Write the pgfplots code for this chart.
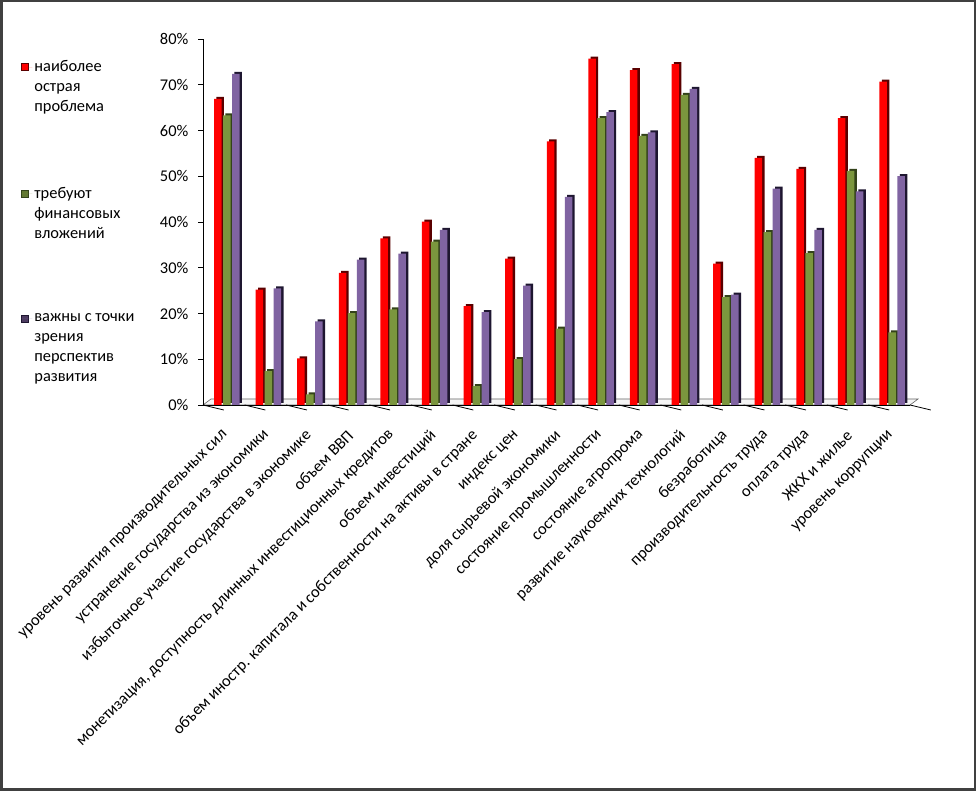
\documentclass[border=0pt]{standalone}
\usepackage{pgfplots}
\pgfplotsset{compat=1.18}
\usepackage{pgfplotstable}
\usepackage{fontspec}
\setmainfont{Carlito}
\definecolor{cred}{HTML}{FF0000}
\definecolor{cgreen}{HTML}{7B963E}
\definecolor{cpurple}{HTML}{8064A2}
\definecolor{sred}{HTML}{5A0000}
\definecolor{sgreen}{HTML}{33421A}
\definecolor{spurple}{HTML}{1E1630}

\pgfplotstableread{
x red green purple
0 66.9 63.3 72.4
1 25.2 7.4 25.5
2 10.2 2.3 18.3
3 28.9 20.1 31.8
4 36.4 20.9 33.1
5 40.1 35.7 38.3
6 21.6 4.1 20.3
7 32.0 10.0 26.1
8 57.6 16.7 45.5
9 75.7 62.7 64.0
10 73.2 58.8 59.6
11 74.5 67.8 69.1
12 30.9 23.6 24.1
13 54.0 37.8 47.3
14 51.6 33.2 38.3
15 62.7 51.2 46.7
16 70.7 15.9 50.0
}\data

\begin{document}
{\fontsize{16.4}{20}\selectfont
\begin{tikzpicture}[x=1pt,y=1pt]
\useasboundingbox (0,0) rectangle (976,791);
\fill[white] (0,0) rectangle (976,791);
\draw[line width=2.5pt, color=black!75] (1.25,1.25) rectangle (974.75,789.75);
% floor
\filldraw[fill=black!4, draw=black!60, line width=0.6pt] (203,386) -- (910,386) -- (918,392) -- (211,392) -- cycle;
\begin{axis}[
  at={(203pt,386pt)}, anchor=south west,
  width=707pt, height=366pt, scale only axis,
  xmin=-0.5, xmax=16.5, ymin=0, ymax=80,
  axis x line*=bottom, axis y line*=left,
  axis line style={black, line width=0.8pt},
  /pgf/number format/assume math mode=true,
  ytick={0,10,...,80},
  yticklabels={0\%,10\%,20\%,30\%,40\%,50\%,60\%,70\%,80\%},
  yticklabel style={xshift=-4pt},
  major tick length=5pt, tick align=outside,
  tick style={black, line width=0.8pt},
  xtick={0,...,16},
  xtick style={draw=none},
  xticklabels={
    уровень развития производительных сил,
    устранение государства из экономики,
    избыточное участие государства в экономике,
    объем ВВП,
    {монетизация, доступность длинных инвестиционных кредитов},
    объем инвестиций,
    объем иностр. капитала и собственности на активы в стране,
    индекс цен,
    доля сырьевой экономики,
    состояние промышленности,
    состояние агропрома,
    развитие наукоемких технологий,
    безработица,
    производительность труда,
    оплата труда,
    ЖКХ и жилье,
    уровень коррупции},
  xticklabel style={xshift=2pt, yshift=-23pt, rotate=45, anchor=east, inner sep=0pt},
  ybar=0pt, bar width=7.5pt,
  legend style={at={(axis description cs:-0.2575,0.948)}, anchor=north west,
    draw=none, fill=none, cells={anchor=west, align=left}, row sep=69pt,
    inner sep=0pt},
  clip=false,
]
% side/top shading (3D look)
\addplot[fill=sred, draw=none, bar shift=-6pt, xshift=2.4pt, yshift=2pt, forget plot] table[x=x,y=red] {\data};
\addplot[fill=sgreen, draw=none, bar shift=3pt, xshift=2.4pt, yshift=2pt, forget plot] table[x=x,y=green] {\data};
\addplot[fill=spurple, draw=none, bar shift=12pt, xshift=2.4pt, yshift=2pt, forget plot] table[x=x,y=purple] {\data};
% front faces
\addplot[fill=cred, draw=none, bar shift=-6pt,
  legend image code/.code={\draw[fill=cred, draw=sred, line width=0.5pt] (0pt,16.5pt) rectangle (7pt,23.5pt); \path (0pt,20pt) -- (11pt,20pt);}] table[x=x,y=red] {\data};
\addplot[fill=cgreen, draw=none, bar shift=3pt,
  legend image code/.code={\draw[fill=cgreen!80!black, draw=sgreen, line width=0.5pt] (0pt,16.5pt) rectangle (7pt,23.5pt); \path (0pt,20pt) -- (11pt,20pt);}] table[x=x,y=green] {\data};
\addplot[fill=cpurple, draw=none, bar shift=12pt,
  legend image code/.code={\draw[fill=cpurple!60!black, draw=spurple, line width=0.5pt] (0pt,26.5pt) rectangle (7pt,33.5pt); \path (0pt,30pt) -- (11pt,30pt);}] table[x=x,y=purple] {\data};
\legend{{наиболее\\острая\\проблема},{требуют\\финансовых\\вложений},{важны с точки\\зрения\\перспектив\\развития}}
\pgfplotsinvokeforeach{-0.5,0.5,...,16.5}{\draw[black, line width=0.8pt] (axis cs:#1,0) -- ++(0,-5pt);}
\end{axis}
\end{tikzpicture}}
\end{document}
